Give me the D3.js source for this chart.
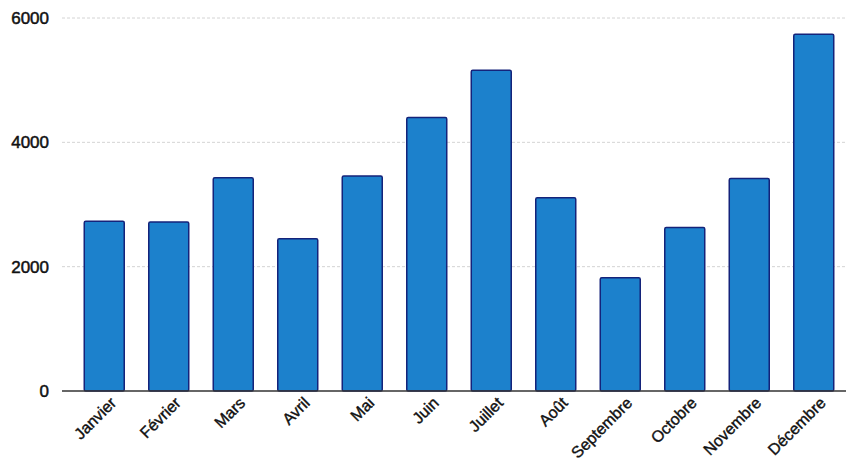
<!DOCTYPE html>
<html>
<head>
<meta charset="utf-8">
<script src="https://cdn.jsdelivr.net/npm/d3@7"></script>
<style>
	body { margin: 0; background: #fff; }
	svg text { font-family: "Liberation Sans", Arial, sans-serif; }
</style>
</head>
<body>
<svg id="chart"></svg>
<script>
const months = ['Janvier', 'Février', 'Mars', 'Avril', 'Mai', 'Juin', 'Juillet', 'Août', 'Septembre', 'Octobre', 'Novembre', 'Décembre'];
const values = [2730, 2720, 3430, 2450, 3460, 4400, 5160, 3110, 1820, 2630, 3420, 5740];
const yTicks = [0, 2000, 4000, 6000];

const width = 847;
const height = 476;

const svg = d3.select('#chart')
	.attr('width', width)
	.attr('height', height);

const x = d3.scaleBand()
	.domain(months).range([72, 846]).paddingInner(0.38).paddingOuter(0.19);
const y = d3.scaleLinear()
	.domain([0, 6000]).range([391, 18]);

// gridlines
svg.append('g')
	.selectAll('line').data(yTicks.filter(d => d > 0))
	.enter().append('line')
		.attr('x1', 62).attr('x2', 846)
		.attr('y1', d => y(d)).attr('y2', d => y(d))
		.attr('stroke', '#d4d4d4')
		.attr('stroke-width', 1)
		.attr('stroke-dasharray', '3,2');

// y tick labels
svg.append('g')
	.selectAll('text').data(yTicks)
	.enter().append('text')
		.attr('x', 49)
		.attr('y', d => y(d))
		.attr('dy', '0.35em')
		.attr('text-anchor', 'end')
		.attr('font-size', 17)
		.attr('fill', '#111')
		.attr('stroke', '#111')
		.attr('stroke-width', 0.5)
		.text(d => d);

// bars
svg.append('g')
	.selectAll('rect').data(values)
	.enter().append('rect')
		.attr('x', (d, i) => x(months[i]))
		.attr('y', d => y(d))
		.attr('width', x.bandwidth())
		.attr('height', d => y(0) - y(d))
		.attr('rx', 1.5)
		.attr('fill', '#1c81cc')
		.attr('stroke', '#14237a')
		.attr('stroke-width', 1.5);

// baseline
svg.append('line')
	.attr('x1', 62).attr('x2', 846)
	.attr('y1', y(0)).attr('y2', y(0))
	.attr('stroke', '#333')
	.attr('stroke-width', 1.5);

// x labels
svg.append('g')
	.selectAll('text').data(months)
	.enter().append('text')
		.attr('transform', d => `translate(${x(d) + x.bandwidth() / 2 + 9},${400}) rotate(-45)`)
		.attr('text-anchor', 'end')
		.attr('dy', '0.35em')
		.attr('font-size', 16)
		.attr('fill', '#111')
		.attr('stroke', '#111')
		.attr('stroke-width', 0.4)
		.text(d => d);
</script>
</body>
</html>
